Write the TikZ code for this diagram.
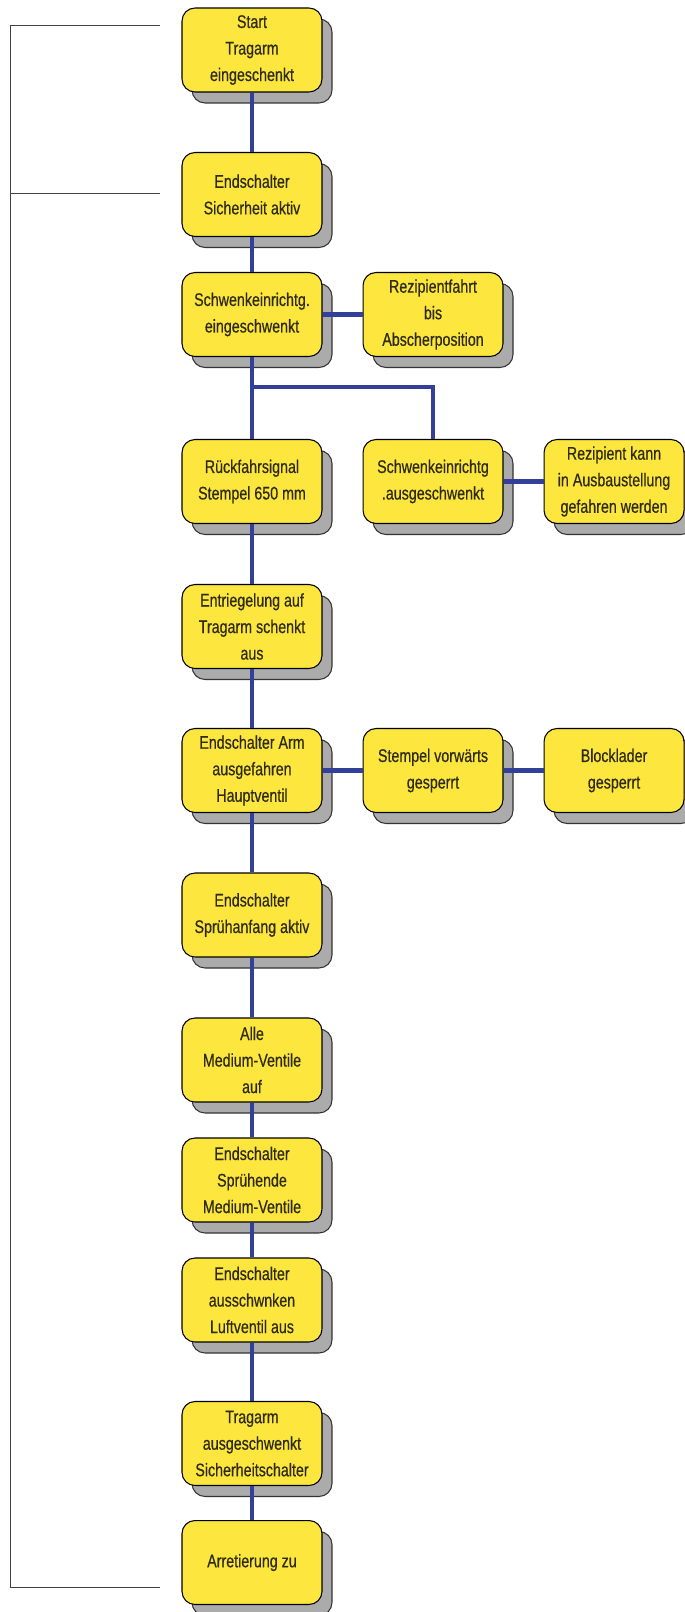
\documentclass[tikz,border=0pt]{standalone}
\usepackage{fontspec}
\setmainfont{Liberation Sans}[FakeStretch=0.78,FakeBold=0.5]
\usetikzlibrary{positioning,shadows}
\definecolor{lampyellow}{HTML}{FDE63E}
\definecolor{wireblue}{HTML}{33409A}
\definecolor{castgray}{HTML}{ABABAB}
\definecolor{inkbrown}{HTML}{2E2B12}
\tikzset{
  stepbox/.style={
    draw=black,
    line width=0.6pt,
    rounded corners=0.26cm,
    fill=lampyellow,
    minimum width=2.8cm,
    minimum height=1.68cm,
    align=center,
    text=inkbrown,
    font=\fontsize{10.4}{15.1}\selectfont,
    general shadow={fill=castgray,draw=black!80,shadow xshift=0.2cm,shadow yshift=-0.22cm}
  },
  wire/.style={line width=2.5pt,draw=wireblue},
  bracket/.style={draw=black!75,line width=0.5pt}
}

\begin{document}
\begin{tikzpicture}[x=0.02cm,y=-0.02cm,node distance=0.8cm]
\useasboundingbox (0,0) rectangle (684,1612);
% main column
\node[stepbox] (start) at (252,50) {Start\\Tragarm\\eingeschenkt};
\node[stepbox] (sicher) at (252,194.5) {Endschalter\\Sicherheit aktiv};
\node[stepbox] (einschw) at (252,314.5) {Schwenkeinrichtg.\\eingeschwenkt};
\node[stepbox] (rueck) at (252,481.5) {Rückfahrsignal\\Stempel 650 mm};
\node[stepbox] (entrieg) at (252,626.5) {Entriegelung auf\\Tragarm schenkt\\aus};
\node[stepbox] (armaus) at (252,770.5) {Endschalter Arm\\ausgefahren\\Hauptventil};
\node[stepbox] (spruehan) at (252,915) {Endschalter\\Sprühanfang aktiv};
\node[stepbox] (ventauf) at (252,1060) {Alle\\Medium-Ventile\\auf};
\node[stepbox] (spruehend) at (252,1180) {Endschalter\\Sprühende\\Medium-Ventile};
\node[stepbox] (luftaus) at (252,1300) {Endschalter\\ausschwnken\\Luftventil aus};
\node[stepbox] (tragaus) at (252,1443.5) {Tragarm\\ausgeschwenkt\\Sicherheitschalter};
\node[stepbox] (arret) at (252,1562.5) {Arretierung zu};
% side branches
\node[stepbox,right=of einschw] (rezfahrt) {Rezipientfahrt\\bis\\Abscherposition};
\node[stepbox,right=of rueck] (ausschw) {Schwenkeinrichtg\\.ausgeschwenkt};
\node[stepbox,right=of ausschw] (rezkann) {Rezipient kann\\in Ausbaustellung\\gefahren werden};
\node[stepbox,right=of armaus] (stempel) {Stempel vorwärts\\gesperrt};
\node[stepbox,right=of stempel] (blocklader) {Blocklader\\gesperrt};
% connectors
\draw[wire] (start) -- (sicher);
\draw[wire] (sicher) -- (einschw);
\draw[wire] (einschw) -- (rezfahrt);
\draw[wire] (einschw) -- (rueck);
\coordinate (fork) at (einschw.south |- 0,387);
\draw[wire] (fork) -| (ausschw.north);
\draw[wire] (ausschw) -- (rezkann);
\draw[wire] (rueck) -- (entrieg);
\draw[wire] (entrieg) -- (armaus);
\draw[wire] (armaus) -- (stempel);
\draw[wire] (stempel) -- (blocklader);
\draw[wire] (armaus) -- (spruehan);
\draw[wire] (spruehan) -- (ventauf);
\draw[wire] (ventauf) -- (spruehend);
\draw[wire] (spruehend) -- (luftaus);
\draw[wire] (luftaus) -- (tragaus);
\draw[wire] (tragaus) -- (arret);
% loop bracket on the left
\draw[bracket] (160,25) -- (10,25) -- (10,1587) -- (160,1587);
\draw[bracket] (10,193) -- (160,193);
\end{tikzpicture}
\end{document}
